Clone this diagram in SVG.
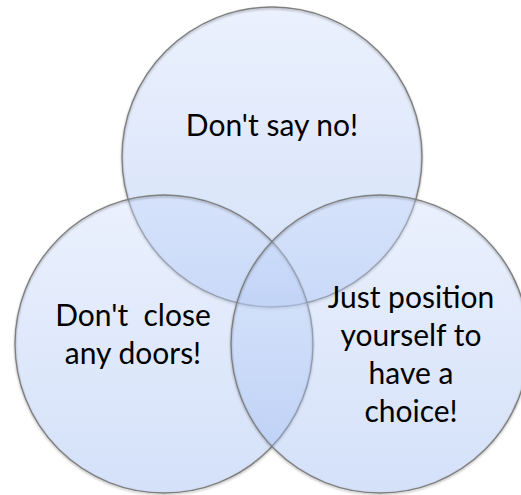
<svg xmlns="http://www.w3.org/2000/svg" width="521" height="495" viewBox="0 0 521 495">
  <defs>
    <linearGradient id="fillGrad" x1="0" y1="0" x2="0" y2="1">
      <stop offset="0" stop-color="#cddcfa"/>
      <stop offset="1" stop-color="#94b4f0"/>
    </linearGradient>
    <filter id="edgeShadow" x="-10%" y="-10%" width="120%" height="120%">
      <feDropShadow dx="0" dy="1.2" stdDeviation="0.8" flood-color="#000" flood-opacity="0.35"/>
    </filter>
  </defs>
  <style>
    .fill { fill: url(#fillGrad); fill-opacity: 0.4; stroke: none; }
    .edge { fill: none; stroke: #7f7f7f; stroke-width: 1.4; filter: url(#edgeShadow); }
    .label { font-family: Lato, "Open Sans", "Liberation Sans", sans-serif; font-size: 30px; fill: #000; text-anchor: middle; white-space: pre; }
  </style>
  <rect width="521" height="495" fill="#fff"/>
  <g id="node-top">
    <circle class="fill" cx="272" cy="157" r="150"/>
    <circle class="edge" cx="272" cy="157" r="150"/>
    <text class="label" x="272" y="136">Don't say no!</text>
  </g>
  <g id="node-left">
    <circle class="fill" cx="164" cy="344" r="149"/>
    <circle class="edge" cx="164" cy="344" r="149"/>
    <text class="label" x="133" y="326" xml:space="preserve">Don't  close</text>
    <text class="label" x="133" y="364">any doors!</text>
  </g>
  <g id="node-right">
    <circle class="fill" cx="380" cy="344" r="149"/>
    <circle class="edge" cx="380" cy="344" r="149"/>
    <text class="label" x="411" y="308">Just position</text>
    <text class="label" x="411" y="346">yourself to</text>
    <text class="label" x="411" y="384">have a</text>
    <text class="label" x="411" y="422">choice!</text>
  </g>
  <g id="connectors"/>
</svg>
